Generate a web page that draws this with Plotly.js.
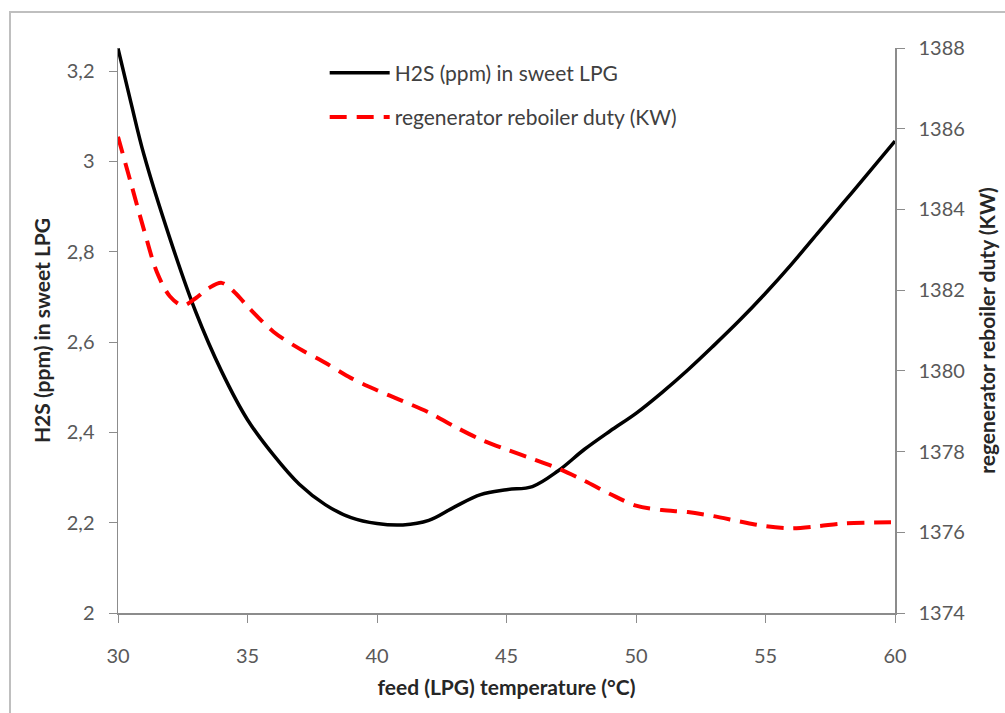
<!DOCTYPE html>
<html>
<head>
<meta charset="utf-8">
<script src="https://cdn.plot.ly/plotly-3.0.1.min.js"></script>
<style>html,body{margin:0;padding:0;background:#fff;}#chart{width:1005px;height:713px;}</style>
</head>
<body>
<div id="chart"></div>
<script>
// Data
const h2sTemp = [30, 30.5, 31, 32, 33, 34, 35, 36, 37, 38, 39, 40, 41, 42, 43, 44, 45, 46, 47, 48, 49, 50, 51, 52, 53, 54, 55, 56, 57, 58, 59, 60];
const h2sPpm  = [3.25, 3.13, 3.015, 2.83, 2.667, 2.535, 2.428, 2.35, 2.285, 2.24, 2.211, 2.198, 2.195, 2.205, 2.235, 2.262, 2.273, 2.28, 2.315, 2.362, 2.403, 2.442, 2.488, 2.538, 2.592, 2.648, 2.708, 2.772, 2.84, 2.908, 2.976, 3.045];

const dutyTemp = [30, 30.5, 31, 31.5, 32, 32.5, 33, 33.5, 34, 34.5, 35, 36, 37, 38, 39, 40, 41, 42, 43, 44, 45, 46, 47, 48, 49, 50, 51, 52, 53, 54, 55, 56, 57, 58, 59, 60];
const dutyKW   = [1385.8, 1384.65, 1383.5, 1382.45, 1381.85, 1381.62, 1381.8, 1382.05, 1382.18, 1381.95, 1381.6, 1380.97, 1380.55, 1380.2, 1379.82, 1379.52, 1379.25, 1378.97, 1378.62, 1378.3, 1378.05, 1377.82, 1377.58, 1377.28, 1376.95, 1376.66, 1376.55, 1376.5, 1376.4, 1376.27, 1376.15, 1376.1, 1376.15, 1376.22, 1376.24, 1376.25];

const xTicks = [30, 35, 40, 45, 50, 55, 60];
const leftTicks = [2, 2.2, 2.4, 2.6, 2.8, 3, 3.2];
const rightTicks = [1374, 1376, 1378, 1380, 1382, 1384, 1386, 1388];

const seriesNames = ["H2S (ppm) in sweet LPG", "regenerator reboiler duty (KW)"];
const xTitle = "feed (LPG) temperature (°C)";
const yTitle = "H2S (ppm) in sweet LPG";
const y2Title = "regenerator reboiler duty (KW)";

const fontFam = "Lato, 'Open Sans', sans-serif";
const axisGray = "#8c8c8c";
const tickFontColor = "#595959";
const titleColor = "#262626";

const traces = [
  {
    x: h2sTemp, y: h2sPpm, name: seriesNames[0], type: "scatter", mode: "lines",
    legendgroup: "a",
    line: {color: "#000000", width: 3.5, shape: "spline", smoothing: 1},
    yaxis: "y"
  },
  {
    x: dutyTemp, y: dutyKW, name: seriesNames[1], type: "scatter", mode: "lines",
    legendgroup: "b",
    line: {color: "#ff0000", width: 4, dash: "17px,10px", shape: "spline", smoothing: 0.9},
    yaxis: "y2"
  }
];

const layout = {
  width: 1005, height: 713,
  margin: {l: 118, r: 110, t: 48, b: 100, pad: 0},
  paper_bgcolor: "#ffffff", plot_bgcolor: "#ffffff",
  showlegend: true,
  font: {family: fontFam, color: tickFontColor},
  legend: {
    x: 0.266, y: 0.992, xanchor: "left", yanchor: "top",
    bgcolor: "rgba(0,0,0,0)",
    font: {family: fontFam, size: 21, color: "#404040"},
    tracegroupgap: 14, itemwidth: 60
  },
  xaxis: {
    range: [30, 60], tickvals: xTicks, ticktext: xTicks.map(String),
    showgrid: false, zeroline: false,
    showline: true, linecolor: axisGray, linewidth: 1.5,
    ticks: "outside", ticklen: 8, tickcolor: axisGray, tickwidth: 1,
    ticklabelstandoff: 16,
    tickfont: {family: fontFam, size: 20, color: tickFontColor},
    automargin: false,
    title: {text: xTitle, font: {family: fontFam, size: 21, color: titleColor, weight: "bold"}, standoff: 15}
  },
  yaxis: {
    range: [2, 3.251], tickvals: leftTicks,
    ticktext: leftTicks.map(v => String(v).replace(".", ",")),
    showgrid: false, zeroline: false,
    showline: true, linecolor: axisGray, linewidth: 1.5,
    ticks: "outside", ticklen: 8, tickcolor: axisGray, tickwidth: 1,
    ticklabelstandoff: 10,
    tickfont: {family: fontFam, size: 20, color: tickFontColor},
    automargin: false,
    title: {text: yTitle, font: {family: fontFam, size: 21, color: titleColor, weight: "bold"}, standoff: 10}
  },
  yaxis2: {
    range: [1374, 1388], tickvals: rightTicks, ticktext: rightTicks.map(String),
    overlaying: "y", side: "right",
    showgrid: false, zeroline: false,
    showline: true, linecolor: axisGray, linewidth: 1.5,
    ticks: "outside", ticklen: 8, tickcolor: axisGray, tickwidth: 1,
    ticklabelstandoff: 10,
    tickfont: {family: fontFam, size: 20, color: tickFontColor},
    automargin: false,
    title: {text: y2Title, font: {family: fontFam, size: 21, color: titleColor, weight: "bold"}, standoff: 16}
  },
  shapes: [
    {type: "rect", xref: "paper", yref: "paper",
     x0: -0.139, x1: 1.3, y0: -0.4, y1: 1.0637,
     line: {color: "#bfbfbf", width: 2}, fillcolor: "rgba(0,0,0,0)", layer: "below"}
  ]
};

Plotly.newPlot("chart", traces, layout, {displayModeBar: false, staticPlot: true});
</script>
</body>
</html>
